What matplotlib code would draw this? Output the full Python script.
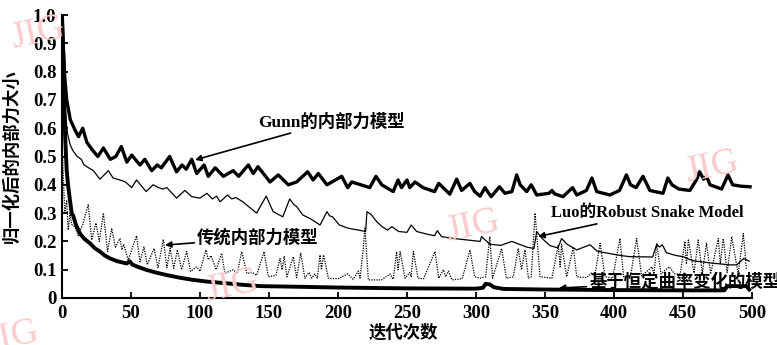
import matplotlib
matplotlib.use('Agg')
from matplotlib import pyplot as plt

# values
gunn_x = [0, 1, 2, 3.4, 6, 9.4, 12, 15, 18, 22.5, 26, 30, 35, 39, 43, 47, 50.5, 56.5, 60, 65,
          69, 72, 75, 78, 83, 87, 90, 94, 97.6, 103, 106, 111, 117, 124, 128, 135, 138.6, 142,
          150.7, 156.7, 164, 170, 178, 182, 185.7, 192, 202.7, 207, 210, 223, 227.5, 231.7,
          240, 243.5, 246, 250, 252, 255.8, 261.6, 270, 273, 281, 286, 289.6, 295.6, 299, 303,
          306.5, 311, 317, 321, 326, 329.5, 332, 336.7, 340, 344, 353, 355, 357, 363, 370, 373,
          380, 384, 387.5, 397, 404, 409, 412, 416, 421, 426, 435.5, 439, 442, 447, 455, 460,
          462, 465, 467, 469.6, 478, 482.6, 486, 492, 498.6]
gunn_y = [1.0, 0.88, 0.78, 0.70, 0.63, 0.594, 0.57, 0.60, 0.55, 0.52, 0.50, 0.53, 0.49, 0.50,
          0.535, 0.48, 0.505, 0.47, 0.49, 0.45, 0.47, 0.46, 0.48, 0.50, 0.446, 0.47, 0.455, 0.49,
          0.44, 0.47, 0.43, 0.46, 0.43, 0.45, 0.43, 0.47, 0.44, 0.464, 0.41, 0.435, 0.40, 0.41,
          0.446, 0.417, 0.44, 0.40, 0.43, 0.39, 0.41, 0.39, 0.43, 0.40, 0.376, 0.417, 0.39,
          0.417, 0.39, 0.41, 0.39, 0.376, 0.405, 0.367, 0.42, 0.38, 0.405, 0.376, 0.36, 0.39,
          0.358, 0.393, 0.37, 0.376, 0.435, 0.40, 0.376, 0.40, 0.364, 0.37, 0.38, 0.368, 0.358,
          0.39, 0.364, 0.38, 0.424, 0.376, 0.364, 0.38, 0.435, 0.40, 0.39, 0.43, 0.38, 0.37,
          0.424, 0.40, 0.385, 0.38, 0.42, 0.446, 0.42, 0.43, 0.40, 0.385, 0.435, 0.40, 0.395,
          0.393]

luo_x = [0, 1, 2, 4, 6, 8, 11, 14, 16, 22.7, 27.5, 33.6, 37, 42, 46, 50.5, 54, 61, 66, 70, 73,
         76, 83, 89, 94, 100, 105, 109, 112, 114.5, 120, 123, 126, 131, 136, 141, 148, 153, 160,
         165, 168, 170, 174.6, 180, 187, 192, 194, 196, 201, 207, 217, 220, 221, 224, 228, 232,
         236, 239, 244, 250, 253, 257, 265, 270, 272, 275, 281, 290, 303, 304, 310, 318, 326,
         328, 336.7, 342, 344, 348, 353.6, 359.4, 362, 366, 373, 382.6, 388, 394.7, 405, 411.6,
         428, 431, 433, 435, 438, 445, 450, 457, 469.6, 484, 489, 494, 498]
luo_y = [0.92, 0.80, 0.68, 0.58, 0.54, 0.52, 0.50, 0.49, 0.47, 0.45, 0.42, 0.45, 0.424, 0.417,
         0.41, 0.39, 0.417, 0.376, 0.40, 0.39, 0.385, 0.39, 0.353, 0.38, 0.358, 0.353, 0.37,
         0.35, 0.36, 0.34, 0.364, 0.35, 0.355, 0.34, 0.32, 0.30, 0.36, 0.305, 0.287, 0.35, 0.33,
         0.323, 0.293, 0.28, 0.258, 0.305, 0.29, 0.287, 0.258, 0.247, 0.238, 0.235, 0.305,
         0.295, 0.27, 0.252, 0.24, 0.252, 0.235, 0.232, 0.258, 0.235, 0.225, 0.22, 0.238, 0.217,
         0.212, 0.207, 0.20, 0.217, 0.19, 0.186, 0.20, 0.196, 0.18, 0.175, 0.235, 0.21, 0.185,
         0.177, 0.21, 0.19, 0.17, 0.188, 0.165, 0.159, 0.15, 0.146, 0.145, 0.19, 0.18, 0.188,
         0.16, 0.15, 0.146, 0.132, 0.124, 0.117, 0.117, 0.14, 0.13]

trad_x = [0, 1, 2, 3.4, 4.5, 5.8, 7, 9.4, 11.8, 15, 19, 21.5, 24.6, 27, 30, 33, 36, 38.7, 42,
          43.5, 44.7, 48, 54, 56.5, 59.4, 61.8, 66.7, 69.6, 73.4, 76, 78.3, 81, 83.6, 86.7, 90.3,
          93.2, 97.6, 100, 104.3, 106, 108, 111.7, 115.7, 118, 124, 127, 130.2, 134, 138, 141,
          146.4, 149.5, 155, 158, 159.5, 161, 163, 167.6, 170, 173, 176, 179, 181, 183, 185, 187,
          188, 189.5, 193, 200, 207, 211, 214.7, 216, 218.4, 219.5, 222, 231.6, 237.7, 240,
          242.5, 243.5, 245, 248.6, 252, 253, 254.6, 258, 262, 270.3, 273, 276.4, 278, 280,
          282.6, 290, 295.6, 299, 303, 307, 310, 312, 318.6, 322, 327, 330.6, 333, 335.5, 338,
          340, 342.8, 346.4, 355, 359.6, 361, 362, 365.7, 370.5, 373, 380, 384, 386, 389.9,
          393.5, 399, 404.3, 407, 412, 416.4, 420, 427.5, 429, 431, 434, 440, 444, 448, 451.4,
          452.5, 453.9, 458, 461, 464, 467, 470, 475.6, 477, 479.2, 482, 485.3, 490, 493.7, 496]
trad_y = [0.55, 0.42, 0.30, 0.346, 0.24, 0.30, 0.26, 0.25, 0.22, 0.26, 0.33, 0.205, 0.265, 0.20,
          0.30, 0.164, 0.246, 0.18, 0.21, 0.17, 0.19, 0.134, 0.22, 0.128, 0.18, 0.118, 0.175,
          0.107, 0.207, 0.107, 0.175, 0.105, 0.17, 0.10, 0.164, 0.094, 0.11, 0.094, 0.17, 0.135,
          0.15, 0.10, 0.158, 0.087, 0.10, 0.087, 0.164, 0.087, 0.09, 0.08, 0.164, 0.075, 0.08,
          0.14, 0.10, 0.147, 0.075, 0.146, 0.072, 0.158, 0.07, 0.09, 0.07, 0.085, 0.07, 0.152,
          0.10, 0.152, 0.07, 0.068, 0.085, 0.066, 0.095, 0.07, 0.18, 0.25, 0.064, 0.064, 0.085,
          0.066, 0.164, 0.10, 0.164, 0.07, 0.09, 0.075, 0.164, 0.07, 0.068, 0.164, 0.07, 0.10,
          0.075, 0.095, 0.064, 0.068, 0.17, 0.075, 0.07, 0.075, 0.217, 0.07, 0.175, 0.07, 0.075,
          0.175, 0.10, 0.17, 0.07, 0.075, 0.30, 0.075, 0.07, 0.187, 0.11, 0.19, 0.075, 0.18,
          0.075, 0.072, 0.09, 0.075, 0.193, 0.075, 0.07, 0.21, 0.075, 0.078, 0.21, 0.078, 0.11,
          0.085, 0.193, 0.085, 0.11, 0.085, 0.085, 0.20, 0.12, 0.205, 0.088, 0.205, 0.088, 0.193,
          0.085, 0.21, 0.12, 0.21, 0.09, 0.217, 0.085, 0.228, 0.10]

curv_x = [0, 1, 2.2, 3.4, 4.6, 7, 8.2, 10, 13, 16, 20.3, 24, 27.5, 31, 34.8, 40, 46.9, 49, 51, 55,
          61.4, 68, 75.9, 85, 95, 105, 119, 130, 143.5, 167.6, 200, 250, 300, 305, 307, 310, 313,
          320, 350, 400, 450, 480, 482, 496, 498]
curv_y = [1.0, 0.85, 0.58, 0.45, 0.39, 0.30, 0.29, 0.26, 0.228, 0.21, 0.193, 0.175, 0.164, 0.15,
          0.14, 0.13, 0.122, 0.13, 0.118, 0.11, 0.099, 0.09, 0.081, 0.072, 0.064, 0.058, 0.052,
          0.047, 0.042, 0.04, 0.037, 0.034, 0.033, 0.036, 0.05, 0.048, 0.038, 0.032, 0.03, 0.028,
          0.027, 0.027, 0.042, 0.042, 0.03]

x_ticks = [0, 50, 100, 150, 200, 250, 300, 350, 400, 450, 500]
y_ticks = [0, 0.1, 0.2, 0.3, 0.4, 0.5, 0.6, 0.7, 0.8, 0.9, 1.0]
y_tick_labels = ['0', '0.1', '0.2', '0.3', '0.4', '0.5', '0.6', '0.7', '0.8', '0.9', '1.0']

mixed = ['Liberation Serif', 'Noto Sans CJK SC', 'DejaVu Sans']

fig = plt.figure(figsize=(7.77, 3.45), dpi=100)
ax = fig.add_axes([62 / 777, 47 / 345, 690 / 777, 283 / 345])

# faint journal watermarks from the scan
for wx, wy in [(38, 33), (473, 226), (712, 167), (232, 286), (12, 337)]:
    fig.text(wx / 777, 1 - wy / 345, 'JIG', color='#fbcaca', fontsize=27,
             family='Liberation Serif', rotation=12, ha='center', va='center', zorder=0)

ax.plot(trad_x, trad_y, color='black', lw=0.9, linestyle=(0, (1, 1)))
ax.plot(luo_x, luo_y, color='black', lw=0.9)
ax.plot(gunn_x, gunn_y, color='black', lw=2.4)
ax.plot(curv_x, curv_y, color='black', lw=2.8)

ax.set_xlim(0, 500)
ax.set_ylim(0, 1.0)
ax.patch.set_alpha(0)
for s in ['top', 'right']:
    ax.spines[s].set_visible(False)
for s in ['left', 'bottom']:
    ax.spines[s].set_linewidth(1.5)
ax.set_xticks(x_ticks)
ax.set_yticks(y_ticks)
ax.set_yticklabels(y_tick_labels)
ax.tick_params(direction='in', length=4, width=1.3, labelsize=13.5, pad=4)
ax.tick_params(axis='x', pad=5)
for lab in ax.get_xticklabels() + ax.get_yticklabels():
    lab.set_family('Liberation Serif')
    lab.set_fontweight('bold')

arrow = dict(arrowstyle='-|>', color='black', lw=1.2, mutation_scale=9, shrinkA=0, shrinkB=0)
ax.annotate('Gunn的内部力模型', xy=(96.4, 0.488), xytext=(142, 0.623), family=mixed,
            fontsize=12.5, fontweight='bold', va='center', arrowprops=arrow)
ax.annotate('传统内部力模型', xy=(74.6, 0.187), xytext=(98, 0.212), family=mixed,
            fontsize=12.5, fontweight='bold', va='center', arrowprops=arrow)
ax.annotate('Luo的Robust Snake Model', xy=(345, 0.217), xytext=(354, 0.30), family=mixed,
            fontsize=12, fontweight='bold', va='center', arrowprops=arrow)
ax.annotate('基于恒定曲率变化的模型', xy=(360, 0.035), xytext=(382, 0.058), family=mixed,
            fontsize=12.5, fontweight='bold', va='center', arrowprops=arrow,
            annotation_clip=False)

fig.text(12 / 777, 1 - 156 / 345, '归一化后的内部力大小', rotation=90, family=mixed,
         fontsize=12.5, fontweight='bold', ha='center', va='center')
fig.text(403 / 777, 1 - 333 / 345, '迭代次数', family=mixed, fontsize=12.5,
         fontweight='bold', ha='center', va='center')

fig.savefig('out.png', dpi=100)
